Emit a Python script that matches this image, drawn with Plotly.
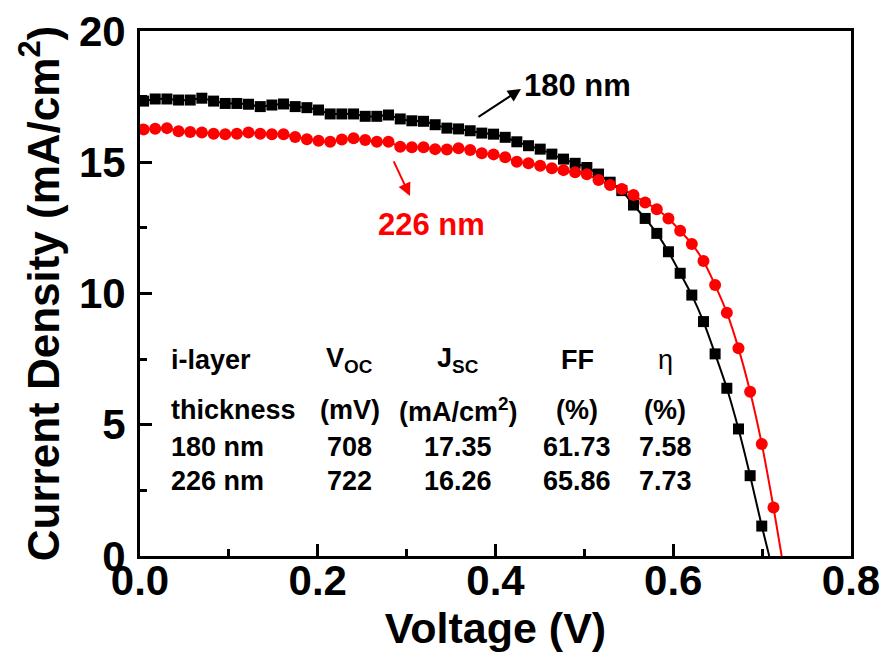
import plotly.graph_objects as go

# ---------------- data ----------------
voltage = [0.0040, 0.0171, 0.0303, 0.0434, 0.0565, 0.0696, 0.0828, 0.0959, 0.1090, 0.1221,
           0.1353, 0.1484, 0.1615, 0.1746, 0.1878, 0.2009, 0.2140, 0.2271, 0.2403, 0.2534,
           0.2665, 0.2796, 0.2928, 0.3059, 0.3190, 0.3321, 0.3453, 0.3584, 0.3715, 0.3846,
           0.3978, 0.4109, 0.4240, 0.4371, 0.4503, 0.4634, 0.4765, 0.4896, 0.5028, 0.5159,
           0.5290, 0.5421, 0.5553, 0.5684, 0.5815, 0.5946, 0.6078, 0.6209, 0.6340, 0.6471,
           0.6603, 0.6734, 0.6865, 0.6996, 0.7128]

j_180 = [17.33, 17.41, 17.41, 17.37, 17.37, 17.44, 17.33, 17.24, 17.24, 17.21,
         17.12, 17.18, 17.22, 17.12, 17.08, 16.99, 16.84, 16.84, 16.84, 16.75,
         16.75, 16.80, 16.65, 16.58, 16.56, 16.43, 16.30, 16.27, 16.20, 16.11,
         16.07, 15.95, 15.78, 15.63, 15.50, 15.31, 15.12, 14.96, 14.80, 14.55,
         14.24, 13.92, 13.37, 12.86, 12.29, 11.59, 10.77, 9.94, 8.93, 7.70,
         6.39, 4.84, 3.06, 1.14]

j_226 = [16.25, 16.28, 16.30, 16.18, 16.15, 16.13, 16.09, 16.07, 16.09, 16.13,
         16.09, 16.07, 16.07, 15.96, 15.88, 15.82, 15.78, 15.87, 15.91, 15.85,
         15.78, 15.78, 15.59, 15.57, 15.57, 15.50, 15.49, 15.53, 15.47, 15.34,
         15.30, 15.19, 15.02, 14.96, 14.87, 14.77, 14.70, 14.62, 14.54, 14.32,
         14.13, 13.98, 13.75, 13.47, 13.21, 12.86, 12.39, 11.89, 11.24, 10.32,
         9.27, 7.91, 6.26, 4.27, 1.85]

thickness = ["180 nm", "226 nm"]
voc_mv = [708, 722]
jsc = ["17.35", "16.26"]
ff = ["61.73", "65.86"]
eta = ["7.58", "7.73"]

x_ticks = [0.0, 0.2, 0.4, 0.6, 0.8]
y_ticks = [0, 5, 10, 15, 20]

# ---------------- figure ----------------
FONT = "Liberation Sans, Arial, Helvetica, sans-serif"
fig = go.Figure()

series = [
    (voltage[:len(j_180)], j_180, voc_mv[0], "black", "square", 11, thickness[0]),
    (voltage[:len(j_226)], j_226, voc_mv[1], "#ff0000", "circle", 12, thickness[1]),
]
for vx, jy, voc, col, sym, size, name in series:
    fig.add_trace(go.Scatter(
        x=list(vx) + [voc / 1000.0], y=list(jy) + [0.0], mode="lines",
        line=dict(color=col, width=2, shape="spline", smoothing=0.6),
        showlegend=False, hoverinfo="skip"))
for vx, jy, voc, col, sym, size, name in series:
    fig.add_trace(go.Scatter(
        x=vx, y=jy, mode="markers", name=name,
        marker=dict(symbol=sym, size=size, color=col, line=dict(width=0)),
        showlegend=False))

annotations = []
# curve labels with arrows
annotations.append(dict(x=0.4287, y=17.79, ax=0.3792, ay=16.69, xref="x", yref="y",
                        axref="x", ayref="y", text="", showarrow=True, arrowhead=2,
                        arrowsize=1.3, arrowwidth=2, arrowcolor="black"))
annotations.append(dict(x=0.4928, y=17.94, xref="x", yref="y", text="<b>" + thickness[0] + "</b>",
                        showarrow=False, font=dict(size=31, color="black", family=FONT)))
annotations.append(dict(x=0.3038, y=13.71, ax=0.2847, ay=15.09, xref="x", yref="y",
                        axref="x", ayref="y", text="", showarrow=True, arrowhead=2,
                        arrowsize=1.3, arrowwidth=2, arrowcolor="#ff0000"))
annotations.append(dict(x=0.3285, y=12.61, xref="x", yref="y", text="<b>" + thickness[1] + "</b>",
                        showarrow=False, font=dict(size=31, color="#ff0000", family=FONT)))

# parameter table
col_x = [0.033, 0.236, 0.358, 0.492, 0.591]
row_y = [7.47, 5.56, 4.15, 2.86]
header1 = ["i-layer", "V<sub>OC</sub>", "J<sub>SC</sub>", "FF", "η"]
header2 = ["thickness", "(mV)", "(mA/cm<sup>2</sup>)", "(%)", "(%)"]
rows = [header1, header2]
for i in range(len(thickness)):
    rows.append([thickness[i], str(voc_mv[i]), jsc[i], ff[i], eta[i]])
for r, row in enumerate(rows):
    for c, txt in enumerate(row):
        annotations.append(dict(
            x=col_x[c], y=row_y[r], xref="x", yref="y",
            text=txt if txt == "η" else "<b>" + txt + "</b>",
            showarrow=False, xanchor="left" if c == 0 else "center", yanchor="middle",
            font=dict(size=27, color="black", family=FONT)))

axis_common = dict(
    showline=True, linewidth=3, linecolor="black", mirror=True,
    ticks="inside", ticklen=12, tickwidth=3, tickcolor="black",
    showgrid=False, zeroline=False, automargin=False,
    tickfont=dict(size=42, color="black", family=FONT, weight="bold"),
)

fig.update_layout(
    width=883, height=661,
    margin=dict(l=140, r=32, t=31, b=105, autoexpand=False),
    plot_bgcolor="white", paper_bgcolor="white",
    font=dict(family=FONT, color="black"),
    annotations=annotations,
    xaxis=dict(range=[0, 0.8], tickvals=x_ticks, tickformat=".1f",
               minor=dict(dtick=0.1, ticks="inside", ticklen=7, tickwidth=3, tickcolor="black"),
               title=dict(text="<b>Voltage (V)</b>", font=dict(size=43, family=FONT), standoff=6),
               ticklabelstandoff=-14,
               **axis_common),
    yaxis=dict(range=[0, 20], tickvals=y_ticks,
               minor=dict(dtick=2.5, ticks="inside", ticklen=7, tickwidth=3, tickcolor="black"),
               title=dict(text="<b>Current Density (mA/cm<sup>2</sup>)</b>", font=dict(size=44, family=FONT), standoff=6),
               ticklabelstandoff=3,
               **axis_common),
)

fig.write_html("out.html", config={"displayModeBar": False},
               post_script="document.body.style.margin='0px';")
